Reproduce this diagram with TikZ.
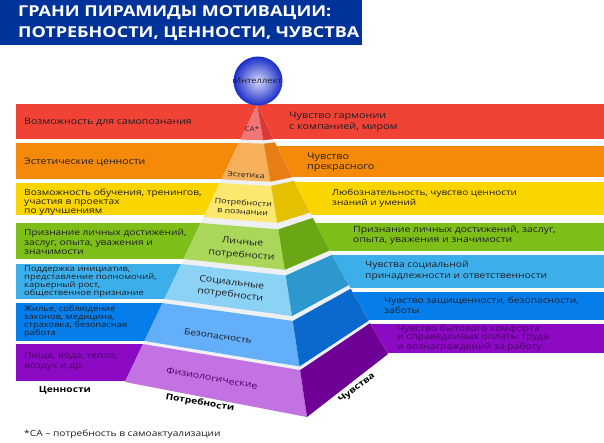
\documentclass[tikz,border=0pt]{standalone}
\usepackage{fontspec}
\setmainfont{Open Sans}[FakeStretch=1.2]
\definecolor{titleblue}{RGB}{0,51,153}
\definecolor{txtdark}{RGB}{30,30,35}
\definecolor{txtpur}{RGB}{75,0,105}
\definecolor{ledge}{RGB}{238,240,244}
% bands
\definecolor{bandred}{RGB}{241,66,54}
\definecolor{bandorg}{RGB}{245,137,10}
\definecolor{bandyel}{RGB}{250,213,0}
\definecolor{bandgrn}{RGB}{125,190,25}
\definecolor{bandlb}{RGB}{60,175,235}
\definecolor{bandbl}{RGB}{5,125,235}
\definecolor{bandpur}{RGB}{140,10,195}
% pyramid faces
\definecolor{redL}{RGB}{242,118,118}
\definecolor{redR}{RGB}{222,55,55}
\definecolor{orgL}{RGB}{246,176,90}
\definecolor{orgR}{RGB}{232,125,20}
\definecolor{yelL}{RGB}{252,232,110}
\definecolor{yelR}{RGB}{228,192,0}
\definecolor{grnL}{RGB}{170,215,90}
\definecolor{grnR}{RGB}{105,168,20}
\definecolor{lbL}{RGB}{140,210,245}
\definecolor{lbR}{RGB}{45,152,205}
\definecolor{blL}{RGB}{100,175,250}
\definecolor{blR}{RGB}{10,105,205}
\definecolor{purL}{RGB}{195,115,225}
\definecolor{purR}{RGB}{110,0,150}
\definecolor{ballin}{RGB}{215,218,250}
\definecolor{ballout}{RGB}{25,45,200}

\begin{document}
\begin{tikzpicture}[x=1pt,y=-1pt,
  declare function={xl(\s)=257-132*\s; yl(\s)=105+277*\s;
    xf(\s)=257+50*\s; yf(\s)=105+277*\s+35*\s*\s;
    xr(\s)=257+131*\s; yr(\s)=105+277*\s-28*\s*\s;},
  bandtxt/.style={anchor=west,align=left,inner sep=0pt,text=txtdark,
    font=\fontsize{8.5}{9.2}\selectfont},
  feeltxt/.style={bandtxt,font=\fontsize{8.5}{9.5}\selectfont},
  pyrtxt/.style={align=center,inner sep=0pt,text=txtdark,
    font=\fontsize{8}{9}\selectfont},
  sidetxt/.style={inner sep=0pt,text=black,font=\fontsize{8.5}{10}\selectfont\bfseries}]
\useasboundingbox[fill=white] (0,0) rectangle (604,443);

% title
\fill[titleblue] (0,0) rectangle (362,45);
\node[anchor=west,align=left,inner sep=0pt,text=white,
  font=\fontsize{15}{21}\selectfont\bfseries] (title) at (18,23)
  {ГРАНИ ПИРАМИДЫ МОТИВАЦИИ:\\ПОТРЕБНОСТИ, ЦЕННОСТИ, ЧУВСТВА};

% bands: left part, right part
\foreach \ya/\yb/\yc/\yd/\col in {104/139/104/139/bandred,
  143/179/146/177/bandorg, 183/215/182/215/bandyel, 223/259/223/251/bandgrn,
  264/299/255/288/bandlb, 303/341/292/320/bandbl, 344/381/324/353/bandpur}{
  \fill[\col] (16,\ya) rectangle (258,\yb);
  \fill[\col] (258,\yc) rectangle (604,\yd);
}

% pyramid
\fill[ledge] ({xl(0)},{yl(0)}) -- ({xl(1)},{yl(1)}) -- ({xf(1)},{yf(1)})
  -- plot[domain=1:0,samples=15] ({xr(\x)},{yr(\x)}) -- cycle;
\foreach \ta/\tb/\cl/\cr in {0/0.125/redL/redR, 0.137/0.268/orgL/orgR,
  0.282/0.405/yelL/yelR, 0.426/0.556/grnL/grnR, 0.574/0.7/lbL/lbR,
  0.715/0.852/blL/blR, 0.863/1/purL/purR}{
  \fill[\cl] ({xl(\ta)},{yl(\ta)}) -- ({xf(\ta)},{yf(\ta)})
    -- ({xf(\tb)},{yf(\tb)}) -- ({xl(\tb)},{yl(\tb)}) -- cycle;
  \fill[\cr] ({xf(\ta)},{yf(\ta)}) -- ({xr(\ta)},{yr(\ta)})
    -- ({xr(\tb)},{yr(\tb)}) -- ({xf(\tb)},{yf(\tb)}) -- cycle;
}

\node[circle,minimum size=49pt,inner sep=0pt,inner color=ballin,outer color=ballout,
  text=txtdark,font=\fontsize{7.8}{8}\selectfont] (intel) at (258,81) {Интеллект};

% pyramid labels
\node[pyrtxt,font=\fontsize{6.5}{7}\selectfont] (sa) at (252,129) {СА*};
\node[pyrtxt,font=\fontsize{7.2}{8}\selectfont,rotate=-3] (aest) at (246,175) {Эстетика};
\node[pyrtxt,font=\fontsize{7.5}{9}\selectfont,rotate=-4] (cogn) at (243,207) {Потребности\\в познании};
\node[pyrtxt,font=\fontsize{8.8}{13}\selectfont,rotate=-5] (pers) at (242,249) {Личные\\потребности};
\node[pyrtxt,font=\fontsize{8.8}{12}\selectfont,rotate=-7] (soc) at (231,289) {Социальные\\потребности};
\node[pyrtxt,font=\fontsize{8.5}{10}\selectfont,rotate=-8] (safe) at (218,336) {Безопасность};
\node[pyrtxt,font=\fontsize{8.8}{10}\selectfont,rotate=-10,text=txtpur] (phys) at (212,378) {Физиологические};

% values (left)
\node[bandtxt,font=\fontsize{8.8}{9.2}\selectfont] (v1) at (24,122) {Возможность для самопознания};
\node[bandtxt,font=\fontsize{8.8}{9.2}\selectfont] (v2) at (24,162) {Эстетические ценности};
\node[bandtxt] (v3) at (24,202) {Возможность обучения, тренингов,\\участия в проектах\\по улучшениям};
\node[bandtxt] (v4) at (24,242) {Признание личных достижений,\\заслуг, опыта, уважения и\\значимости};
\node[bandtxt,font=\fontsize{7.8}{8}\selectfont] (v5) at (24,282) {Поддержка инициатив,\\представление полномочий,\\карьерный рост,\\общественное признание};
\node[bandtxt,font=\fontsize{7.8}{8}\selectfont] (v6) at (24,321) {Жилье, соблюдение\\законов, медицина,\\страховка, безопасная\\работа};
\node[bandtxt,text=txtpur,font=\fontsize{8.5}{10}\selectfont] (v7) at (24,361) {Пища, вода, тепло,\\воздух и др.};

% feelings (right)
\node[feeltxt,font=\fontsize{9}{11.5}\selectfont] (f1) at (289,122) {Чувство гармонии\\с компанией, миром};
\node[feeltxt,font=\fontsize{9}{10}\selectfont] (f2) at (307,162) {Чувство\\прекрасного};
\node[feeltxt,font=\fontsize{8.3}{10}\selectfont] (f3) at (332,198) {Любознательность, чувство ценности\\знаний и умений};
\node[feeltxt,font=\fontsize{8.7}{9.5}\selectfont] (f4) at (353,235.5) {Признание личных достижений, заслуг,\\опыта, уважения и значимости};
\node[feeltxt,font=\fontsize{8.6}{10.5}\selectfont] (f5) at (365,271) {Чувства социальной\\принадлежности и ответственности};
\node[feeltxt] (f6) at (384,305.5) {Чувство защищенности, безопасности,\\заботы};
\node[feeltxt,text=txtpur,font=\fontsize{8.6}{8.2}\selectfont] (f7) at (397,338) {Чувство бытового комфорта\\и справедливых оплаты труда\\и вознаграждений за работу};

% facets
\node[sidetxt] (values) at (65,390) {Ценности};
\node[sidetxt,rotate=-10] (needs) at (200,403) {Потребности};
\node[sidetxt,rotate=38] (feel) at (357,388) {Чувства};

\node[anchor=west,inner sep=0pt,text=txtdark,font=\fontsize{8.5}{9}\selectfont] (note) at (24,434)
  {*СА – потребность в самоактуализации};
\end{tikzpicture}
\end{document}
